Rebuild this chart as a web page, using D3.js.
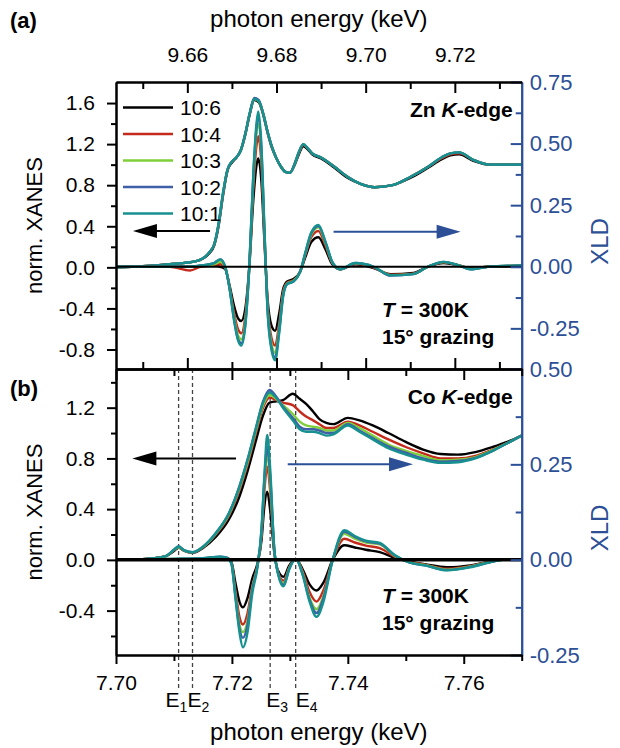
<!DOCTYPE html>
<html lang="en">
<head>
<meta charset="UTF-8">
<title>Zn / Co K-edge XANES and XLD</title>
<script src="https://cdnjs.cloudflare.com/ajax/libs/d3/7.8.5/d3.min.js"></script>
<style>
    body { margin: 0; background: #fff; }
    text { font-family: "Liberation Sans", Arial, sans-serif; }
</style>
</head>
<body>
<svg id="chart" width="620" height="748"></svg>

<script>
    // ---- data ----
    var samples = ['10:6', '10:4', '10:3', '10:2', '10:1'];
    var sampleColors = ['#000000', '#c42b1c', '#7fcf3a', '#3f5fa8', '#17918f'];

    // (a) Zn K-edge
    var znXanesE = [9.644, 9.650, 9.656, 9.662, 9.665, 9.666, 9.667, 9.668, 9.669, 9.670,
        9.671, 9.672, 9.673, 9.674, 9.675, 9.676, 9.677, 9.678, 9.679, 9.680,
        9.681, 9.682, 9.683, 9.684, 9.685, 9.686, 9.687, 9.688, 9.690, 9.693,
        9.696, 9.699, 9.702, 9.706, 9.710, 9.714, 9.717, 9.719, 9.721, 9.724,
        9.728, 9.735];
    var znXanes = [
        [0.00, 0.01, 0.03, 0.06, 0.14, 0.21, 0.40, 0.70, 0.94, 1.02, 1.07, 1.14, 1.29, 1.49, 1.63, 1.61, 1.49, 1.31, 1.16, 1.06,
         0.98, 0.93, 0.92, 0.99, 1.10, 1.18, 1.15, 1.10, 1.06, 0.97, 0.87, 0.81, 0.78, 0.80, 0.87, 0.97, 1.05, 1.09, 1.10, 1.04, 1.00, 1.00],
        [0.00, 0.01, 0.03, 0.06, 0.15, 0.22, 0.41, 0.71, 0.95, 1.03, 1.07, 1.14, 1.30, 1.50, 1.64, 1.62, 1.50, 1.32, 1.17, 1.06,
         0.98, 0.93, 0.92, 1.00, 1.11, 1.19, 1.16, 1.11, 1.07, 0.98, 0.88, 0.81, 0.78, 0.80, 0.88, 0.98, 1.06, 1.10, 1.11, 1.05, 1.00, 1.00],
        [0.00, 0.01, 0.03, 0.06, 0.15, 0.22, 0.42, 0.72, 0.95, 1.03, 1.07, 1.14, 1.30, 1.50, 1.64, 1.62, 1.50, 1.32, 1.17, 1.06,
         0.98, 0.93, 0.92, 1.00, 1.12, 1.20, 1.16, 1.11, 1.07, 0.98, 0.88, 0.81, 0.78, 0.80, 0.88, 0.98, 1.07, 1.11, 1.12, 1.05, 1.00, 1.00],
        [0.00, 0.01, 0.03, 0.06, 0.15, 0.22, 0.42, 0.72, 0.95, 1.03, 1.07, 1.14, 1.30, 1.50, 1.65, 1.63, 1.50, 1.32, 1.17, 1.06,
         0.98, 0.93, 0.92, 1.00, 1.12, 1.20, 1.16, 1.11, 1.07, 0.98, 0.88, 0.81, 0.78, 0.80, 0.88, 0.98, 1.07, 1.11, 1.12, 1.05, 1.00, 1.00],
        [0.00, 0.01, 0.03, 0.06, 0.15, 0.22, 0.42, 0.72, 0.95, 1.03, 1.07, 1.14, 1.30, 1.50, 1.64, 1.62, 1.50, 1.32, 1.17, 1.06,
         0.98, 0.93, 0.92, 1.00, 1.12, 1.20, 1.16, 1.11, 1.07, 0.98, 0.88, 0.81, 0.78, 0.80, 0.88, 0.98, 1.07, 1.11, 1.12, 1.05, 1.00, 1.00]
    ];
    var znXldE = [9.644, 9.656, 9.6606, 9.6629, 9.6660, 9.6674, 9.6685, 9.6694, 9.6705, 9.6714,
        9.6721, 9.6730, 9.6739, 9.6748, 9.6755, 9.6759, 9.6766, 9.6773, 9.6780, 9.6789,
        9.6797, 9.6806, 9.6815, 9.6824, 9.6838, 9.6853, 9.6865, 9.6878, 9.6894, 9.6910,
        9.6925, 9.6943, 9.6977, 9.7018, 9.7056, 9.7107, 9.7139, 9.7175, 9.7210, 9.7235,
        9.7274, 9.735];
    var znXld = [
        [0, 0, 0, 0.002, 0.005, 0.0, -0.01, -0.07, -0.16, -0.21, -0.22, -0.17, 0.0, 0.27, 0.41, 0.44, 0.35, 0.1, -0.13, -0.24,
         -0.26, -0.19, -0.09, -0.06, -0.05, -0.02, 0.04, 0.10, 0.12, 0.07, 0.01, -0.01, 0.01, -0.005, -0.03, -0.025, 0.0, 0.015, 0.005, -0.005, 0.0, 0.003],
        [0, 0, -0.015, 0.0, 0.008, 0.01, -0.005, -0.075, -0.19, -0.255, -0.27, -0.2, 0.0, 0.32, 0.49, 0.53, 0.42, 0.12, -0.15, -0.29,
         -0.32, -0.23, -0.1, -0.065, -0.055, -0.02, 0.05, 0.12, 0.145, 0.085, 0.015, -0.01, 0.012, -0.003, -0.032, -0.028, 0.0, 0.018, 0.005, -0.008, 0.0, 0.004],
        [0, 0, 0, 0.004, 0.01, 0.02, -0.002, -0.078, -0.205, -0.28, -0.295, -0.22, 0.0, 0.35, 0.54, 0.58, 0.46, 0.14, -0.165, -0.315,
         -0.35, -0.25, -0.11, -0.068, -0.058, -0.02, 0.055, 0.13, 0.16, 0.095, 0.018, -0.01, 0.014, 0.0, -0.034, -0.029, 0.0, 0.019, 0.005, -0.009, 0.0, 0.005],
        [0, 0, 0, 0.005, 0.015, 0.03, 0.0, -0.08, -0.215, -0.295, -0.31, -0.235, 0.0, 0.37, 0.56, 0.61, 0.48, 0.145, -0.175, -0.33,
         -0.37, -0.26, -0.115, -0.07, -0.06, -0.02, 0.058, 0.135, 0.165, 0.1, 0.02, -0.01, 0.015, 0.0, -0.036, -0.03, 0.0, 0.02, 0.005, -0.01, 0.0, 0.005],
        [0, 0, 0, 0.005, 0.015, 0.03, 0.0, -0.08, -0.22, -0.30, -0.32, -0.24, 0.0, 0.38, 0.58, 0.63, 0.50, 0.15, -0.18, -0.34,
         -0.38, -0.27, -0.12, -0.07, -0.06, -0.02, 0.06, 0.14, 0.17, 0.10, 0.02, -0.01, 0.015, 0.0, -0.035, -0.03, 0.0, 0.02, 0.005, -0.01, 0.0, 0.005]
    ];

    // (b) Co K-edge
    var coXanesE = [7.700, 7.7057, 7.7086, 7.7100, 7.7108, 7.7118, 7.7132, 7.7149, 7.7172, 7.7195,
        7.7213, 7.7227, 7.7242, 7.7253, 7.7265, 7.7276, 7.7288, 7.7305, 7.7317, 7.7328,
        7.7340, 7.7351, 7.7363, 7.7375, 7.7400, 7.7420, 7.7443, 7.7470, 7.7500, 7.7530,
        7.7560, 7.7590, 7.7620, 7.7650, 7.7675, 7.7700];
    var coXanes = [
        [0.00, 0.01, 0.03, 0.07, 0.095, 0.07, 0.055, 0.09, 0.18, 0.32, 0.50, 0.70, 0.95, 1.13, 1.24, 1.25, 1.26, 1.31,
         1.27, 1.23, 1.17, 1.11, 1.08, 1.07, 1.12, 1.10, 1.06, 1.00, 0.93, 0.87, 0.835, 0.83, 0.85, 0.89, 0.93, 0.98],
        [0.00, 0.01, 0.03, 0.075, 0.10, 0.072, 0.058, 0.095, 0.20, 0.35, 0.55, 0.75, 1.01, 1.19, 1.28, 1.26, 1.24, 1.22,
         1.17, 1.13, 1.10, 1.07, 1.04, 1.04, 1.09, 1.06, 1.01, 0.95, 0.89, 0.84, 0.80, 0.80, 0.82, 0.87, 0.92, 0.98],
        [0.00, 0.01, 0.03, 0.078, 0.10, 0.073, 0.059, 0.098, 0.205, 0.36, 0.565, 0.77, 1.03, 1.21, 1.30, 1.27, 1.22, 1.15,
         1.09, 1.06, 1.05, 1.04, 1.02, 1.02, 1.08, 1.04, 0.98, 0.91, 0.86, 0.82, 0.785, 0.79, 0.81, 0.865, 0.92, 0.98],
        [0.00, 0.01, 0.03, 0.08, 0.105, 0.075, 0.06, 0.10, 0.21, 0.37, 0.58, 0.79, 1.05, 1.24, 1.34, 1.29, 1.21, 1.12,
         1.05, 1.03, 1.03, 1.02, 1.00, 1.00, 1.07, 1.02, 0.96, 0.895, 0.845, 0.80, 0.775, 0.78, 0.805, 0.86, 0.92, 0.98],
        [0.00, 0.01, 0.03, 0.08, 0.105, 0.075, 0.06, 0.10, 0.21, 0.37, 0.58, 0.79, 1.05, 1.23, 1.32, 1.28, 1.20, 1.10,
         1.03, 1.01, 1.01, 1.00, 0.98, 0.99, 1.06, 1.01, 0.95, 0.88, 0.83, 0.79, 0.765, 0.77, 0.80, 0.86, 0.92, 0.98]
    ];
    var coXldE = [7.700, 7.7100, 7.7150, 7.7180, 7.7192, 7.7199, 7.7206, 7.7213, 7.7219, 7.7227,
        7.7235, 7.7244, 7.7251, 7.7256, 7.7261, 7.7266, 7.7273, 7.7280, 7.7289, 7.7299,
        7.7310, 7.7322, 7.7334, 7.7346, 7.7358, 7.7374, 7.7394, 7.7412, 7.7431, 7.7455,
        7.7481, 7.7507, 7.7533, 7.7571, 7.7611, 7.7645, 7.7671, 7.7700];
    var coXld = [
        [0, 0.001, 0.002, 0.005, 0.003, -0.005, -0.06, -0.11, -0.125, -0.10, -0.05, -0.01, 0.05, 0.14, 0.178, 0.13, 0.02, -0.03, -0.045,
         -0.015, 0.002, -0.025, -0.065, -0.081, -0.06, 0.0, 0.038, 0.032, 0.026, 0.02, 0.005, -0.005, -0.012, -0.02, -0.015, -0.005, 0.0, 0.0],
        [0, 0.001, 0.003, 0.006, 0.004, -0.007, -0.08, -0.15, -0.17, -0.14, -0.07, -0.015, 0.06, 0.18, 0.244, 0.18, 0.025, -0.035, -0.055,
         -0.02, 0.002, -0.03, -0.085, -0.11, -0.08, 0.0, 0.055, 0.045, 0.037, 0.03, 0.008, -0.006, -0.013, -0.024, -0.017, -0.006, 0.0, 0.0],
        [0, 0.002, 0.003, 0.007, 0.004, -0.008, -0.09, -0.17, -0.19, -0.16, -0.075, -0.017, 0.07, 0.2, 0.28, 0.2, 0.028, -0.037, -0.062,
         -0.022, 0.002, -0.035, -0.1, -0.13, -0.095, 0.0, 0.068, 0.055, 0.045, 0.04, 0.01, -0.007, -0.014, -0.026, -0.018, -0.006, 0.0, 0.0],
        [0, 0.002, 0.004, 0.008, 0.005, -0.009, -0.095, -0.18, -0.205, -0.17, -0.08, -0.018, 0.075, 0.21, 0.296, 0.22, 0.03, -0.038, -0.066,
         -0.024, 0.002, -0.038, -0.105, -0.14, -0.1, 0.0, 0.073, 0.06, 0.048, 0.042, 0.011, -0.008, -0.015, -0.027, -0.019, -0.007, 0.0, 0.0],
        [0, 0.002, 0.004, 0.008, 0.004, -0.01, -0.1, -0.19, -0.23, -0.19, -0.09, -0.02, 0.08, 0.22, 0.327, 0.24, 0.03, -0.04, -0.07,
         -0.025, 0.002, -0.04, -0.11, -0.15, -0.11, 0.0, 0.077, 0.062, 0.05, 0.044, 0.012, -0.008, -0.015, -0.028, -0.02, -0.007, 0.0, 0.0]
    ];

    // axis ticks
    var znMajorX = [9.66, 9.68, 9.70, 9.72];
    var znMinorX = [9.65, 9.67, 9.69, 9.71, 9.73];
    var coMajorX = [7.70, 7.72, 7.74, 7.76];
    var coMinorX = [7.71, 7.73, 7.75, 7.77];
    var znMajorLeft = [-0.8, -0.4, 0.0, 0.4, 0.8, 1.2, 1.6];
    var znMinorLeft = [-0.6, -0.2, 0.2, 0.6, 1.0, 1.4];
    var coMajorLeft = [-0.4, 0.0, 0.4, 0.8, 1.2];
    var coMinorLeft = [-0.6, -0.2, 0.2, 0.6, 1.0, 1.4];
    var znMajorRight = [-0.25, 0.0, 0.25, 0.5, 0.75];
    var znMinorRight = [-0.125, 0.125, 0.375, 0.625];
    var coMajorRight = [-0.25, 0.0, 0.25, 0.5];
    var coMinorRight = [-0.125, 0.125, 0.375];

    // marked energies in (b)
    var edgeNames = ['1', '2', '3', '4'];
    var edgeEnergies = [7.7108, 7.7132, 7.7266, 7.7310];

    // ---- layout ----
    var plotLeft = 116, plotRight = 521.7;
    var xldColor = '#2c4f96';
    var fontAxis = 21;

    var svg = d3.select('#chart');

    var panels = [{
        id: 'zn', top: 82, bottom: 369,
        xDomain: [9.644, 9.735], leftDomain: [-0.99, 1.805], rightDomain: [-0.415, 0.75],
        xanesE: znXanesE, xanes: znXanes, xldE: znXldE, xld: znXld,
        majorX: znMajorX, minorX: znMinorX,
        majorLeft: znMajorLeft, minorLeft: znMinorLeft,
        majorRight: znMajorRight, minorRight: znMinorRight,
        edge: 'Zn', zeroWidth: 2,
        arrows: [
            {axis: 'left', from: [9.6651, 0.353], to: [9.6478, 0.353], color: '#000'},
            {axis: 'right', from: [9.6928, 0.142], to: [9.7213, 0.142], color: xldColor}
        ]
    }, {
        id: 'co', top: 369, bottom: 655,
        xDomain: [7.70, 7.77], leftDomain: [-0.75, 1.505], rightDomain: [-0.25, 0.5],
        xanesE: coXanesE, xanes: coXanes, xldE: coXldE, xld: coXld,
        majorX: coMajorX, minorX: coMinorX,
        majorLeft: coMajorLeft, minorLeft: coMinorLeft,
        majorRight: coMajorRight, minorRight: coMinorRight,
        edge: 'Co', zeroWidth: 3.5,
        arrows: [
            {axis: 'left', from: [7.72071, 0.80], to: [7.70282, 0.80], color: '#000'},
            {axis: 'right', from: [7.72963, 0.25], to: [7.75125, 0.25], color: xldColor}
        ]
    }];

    panels.forEach(drawPanel);
    drawFrameText();

    function styleAxis(g, color, width) {
        g.select('.domain').attr('stroke', color).attr('stroke-width', width);
        g.selectAll('.tick line').attr('stroke', color).attr('stroke-width', width);
        g.selectAll('.tick text').attr('fill', color).attr('font-size', fontAxis);
    }

    function drawPanel(p, idx) {
        var x = d3.scaleLinear().domain(p.xDomain).range([plotLeft, plotRight]);
        var yL = d3.scaleLinear().domain(p.leftDomain).range([p.bottom, p.top]);
        var yR = d3.scaleLinear().domain(p.rightDomain).range([p.bottom, p.top]);

        var g = svg.append('g').attr('id', 'panel-' + p.id);

        svg.append('clipPath').attr('id', 'clip-' + p.id)
            .append('rect')
            .attr('x', plotLeft).attr('y', p.top)
            .attr('width', plotRight - plotLeft).attr('height', p.bottom - p.top);

        // dashed guide lines for E1..E4
        if (p.id === 'co') {
            g.selectAll('.edge-line')
                .data(edgeEnergies)
                .enter()
                .append('line')
                .attr('x1', function (d) { return x(d); })
                .attr('x2', function (d) { return x(d); })
                .attr('y1', p.top)
                .attr('y2', 690)
                .attr('stroke', '#444')
                .attr('stroke-width', 1.3)
                .attr('stroke-dasharray', '4,3');
        }

        var curves = g.append('g').attr('clip-path', 'url(#clip-' + p.id + ')');

        var lineL = d3.line()
            .x(function (d) { return x(d[0]); })
            .y(function (d) { return yL(d[1]); })
            .curve(d3.curveMonotoneX);
        var lineR = d3.line()
            .x(function (d) { return x(d[0]); })
            .y(function (d) { return yR(d[1]); })
            .curve(d3.curveMonotoneX);

        p.xanes.forEach(function (vals, i) {
            curves.append('path')
                .datum(p.xanesE.map(function (e, j) { return [e, vals[j]]; }))
                .attr('d', lineL)
                .attr('fill', 'none')
                .attr('stroke', sampleColors[i])
                .attr('stroke-width', 2.4);
        });
        p.xld.forEach(function (vals, i) {
            curves.append('path')
                .datum(p.xldE.map(function (e, j) { return [e, vals[j]]; }))
                .attr('d', lineR)
                .attr('fill', 'none')
                .attr('stroke', sampleColors[i])
                .attr('stroke-width', 2.4);
        });

        // zero line
        g.append('line')
            .attr('x1', plotLeft).attr('x2', plotRight)
            .attr('y1', yR(0)).attr('y2', yR(0))
            .attr('stroke', '#000')
            .attr('stroke-width', p.zeroWidth);

        // arrows
        p.arrows.forEach(function (a) {
            var y = a.axis === 'left' ? yL : yR;
            var x0 = x(a.from[0]), y0 = y(a.from[1]);
            var x1 = x(a.to[0]), y1 = y(a.to[1]);
            var dir = x1 > x0 ? 1 : -1;
            var head = 24, half = 7;
            g.append('line')
                .attr('x1', x0).attr('y1', y0)
                .attr('x2', x1 - dir * head * 0.8).attr('y2', y1)
                .attr('stroke', a.color).attr('stroke-width', 2);
            g.append('path')
                .attr('d', 'M' + x1 + ',' + y1 + 'L' + (x1 - dir * head) + ',' + (y1 - half) +
                    'L' + (x1 - dir * head) + ',' + (y1 + half) + 'Z')
                .attr('fill', a.color);
        });

        // left axis
        var leftMinor = g.append('g').attr('transform', 'translate(' + plotLeft + ',0)')
            .call(d3.axisLeft(yL).tickValues(p.minorLeft).tickSize(5).tickSizeOuter(0).tickFormat(''));
        styleAxis(leftMinor, '#000', 2);
        var leftMajor = g.append('g').attr('transform', 'translate(' + plotLeft + ',0)')
            .call(d3.axisLeft(yL).tickValues(p.majorLeft).tickSize(9).tickSizeOuter(0).tickPadding(12)
                .tickFormat(function (d) { return d.toFixed(1); }));
        styleAxis(leftMajor, '#000', 2);

        // right axis (XLD)
        var rightMinor = g.append('g').attr('transform', 'translate(' + plotRight + ',0)')
            .call(d3.axisRight(yR).tickValues(p.minorRight).tickSize(-6).tickSizeOuter(0).tickFormat(''));
        styleAxis(rightMinor, xldColor, 2);
        var rightMajor = g.append('g').attr('transform', 'translate(' + plotRight + ',0)')
            .call(d3.axisRight(yR).tickValues(p.majorRight).tickSize(-11).tickSizeOuter(0).tickPadding(8)
                .tickFormat(function (d) { return d.toFixed(2); }));
        styleAxis(rightMajor, xldColor, 2);
        rightMajor.selectAll('.tick text').attr('font-size', 22);

        if (p.id === 'zn') {
            // top axis with labels, ticks inward
            var topMinor = g.append('g').attr('transform', 'translate(0,' + p.top + ')')
                .call(d3.axisTop(x).tickValues(p.minorX).tickSize(-7).tickSizeOuter(0).tickFormat(''));
            styleAxis(topMinor, '#000', 2);
            var topMajor = g.append('g').attr('transform', 'translate(0,' + p.top + ')')
                .call(d3.axisTop(x).tickValues(p.majorX).tickSize(-11).tickSizeOuter(0).tickPadding(20)
                    .tickFormat(function (d) { return d.toFixed(2); }));
            styleAxis(topMajor, '#000', 2);
            // bottom edge of (a): ticks pointing up
            var botMinor = g.append('g').attr('transform', 'translate(0,' + p.bottom + ')')
                .call(d3.axisBottom(x).tickValues(p.minorX).tickSize(-7).tickSizeOuter(0).tickFormat(''));
            styleAxis(botMinor, '#000', 2);
            var botMajor = g.append('g').attr('transform', 'translate(0,' + p.bottom + ')')
                .call(d3.axisBottom(x).tickValues(p.majorX).tickSize(-11).tickSizeOuter(0).tickFormat(''));
            styleAxis(botMajor, '#000', 2);
        } else {
            // top edge of (b): ticks pointing down
            var tMinor = g.append('g').attr('transform', 'translate(0,' + p.top + ')')
                .call(d3.axisTop(x).tickValues(p.minorX).tickSize(-7).tickSizeOuter(0).tickFormat(''));
            styleAxis(tMinor, '#000', 2);
            var tMajor = g.append('g').attr('transform', 'translate(0,' + p.top + ')')
                .call(d3.axisTop(x).tickValues(p.majorX).tickSize(-11).tickSizeOuter(0).tickFormat(''));
            styleAxis(tMajor, '#000', 2);
            // bottom axis with labels, ticks outward
            var bMinor = g.append('g').attr('transform', 'translate(0,' + p.bottom + ')')
                .call(d3.axisBottom(x).tickValues(p.minorX).tickSize(6).tickSizeOuter(0).tickFormat(''));
            styleAxis(bMinor, '#000', 2);
            var bMajor = g.append('g').attr('transform', 'translate(0,' + p.bottom + ')')
                .call(d3.axisBottom(x).tickValues(p.majorX).tickSize(9).tickSizeOuter(0).tickPadding(11)
                    .tickFormat(function (d) { return d.toFixed(2); }));
            styleAxis(bMajor, '#000', 2);

            // E labels
            var offsets = [-13, -5, -4, 0];
            var eLab = g.selectAll('.edge-label')
                .data(edgeNames)
                .enter()
                .append('text')
                .attr('x', function (d, i) { return x(edgeEnergies[i]) + offsets[i]; })
                .attr('y', 707)
                .attr('font-size', 21);
            eLab.append('tspan').text('E');
            eLab.append('tspan').attr('font-size', 14).attr('dy', 5).text(function (d) { return d; });
        }

        // panel annotations
        var annRight = plotRight - 9;
        var ed = g.append('text')
            .attr('x', annRight).attr('y', p.top + 35)
            .attr('text-anchor', 'end')
            .attr('font-size', 21).attr('font-weight', 'bold');
        ed.append('tspan').text(p.edge + ' ');
        ed.append('tspan').attr('font-style', 'italic').text('K');
        ed.append('tspan').text('-edge');

        var tt = g.append('text')
            .attr('x', 382).attr('y', p.bottom - 52)
            .attr('font-size', 21).attr('font-weight', 'bold');
        tt.append('tspan').attr('font-style', 'italic').text('T');
        tt.append('tspan').text(' = 300K');
        g.append('text')
            .attr('x', 382).attr('y', p.bottom - 25)
            .attr('font-size', 21).attr('font-weight', 'bold')
            .text('15\u00b0 grazing');

        // axis titles
        var midY = (p.top + p.bottom) / 2;
        g.append('text')
            .attr('transform', 'translate(34,' + midY + ') rotate(-90)')
            .attr('text-anchor', 'middle')
            .attr('dy', '0.35em')
            .attr('font-size', 22)
            .text('norm. XANES');
        g.append('text')
            .attr('transform', 'translate(600,' + (midY + 16) + ') rotate(-90)')
            .attr('text-anchor', 'middle')
            .attr('dy', '0.35em')
            .attr('font-size', 24)
            .attr('fill', xldColor)
            .text('XLD');

        // legend in (a)
        if (p.id === 'zn') {
            var leg = g.selectAll('.legend')
                .data(samples)
                .enter()
                .append('g')
                .attr('transform', function (d, i) { return 'translate(123,' + (107.5 + i * 26.5) + ')'; });
            leg.append('line')
                .attr('x1', 0).attr('x2', 50)
                .attr('stroke', function (d, i) { return sampleColors[i]; })
                .attr('stroke-width', 2.4);
            leg.append('text')
                .attr('x', 57).attr('dy', '0.36em')
                .attr('font-size', 21)
                .text(function (d) { return d; });
        }
    }

    function drawFrameText() {
        var mid = (plotLeft + plotRight) / 2;
        svg.append('text').attr('x', 10).attr('y', 28)
            .attr('font-size', 22).attr('font-weight', 'bold').text('(a)');
        svg.append('text').attr('x', 10).attr('y', 396)
            .attr('font-size', 22).attr('font-weight', 'bold').text('(b)');
        svg.append('text').attr('x', mid).attr('y', 27)
            .attr('text-anchor', 'middle').attr('font-size', 24)
            .text('photon energy (keV)');
        svg.append('text').attr('x', mid).attr('y', 740)
            .attr('text-anchor', 'middle').attr('font-size', 24)
            .text('photon energy (keV)');
    }
</script>
</body>
</html>
